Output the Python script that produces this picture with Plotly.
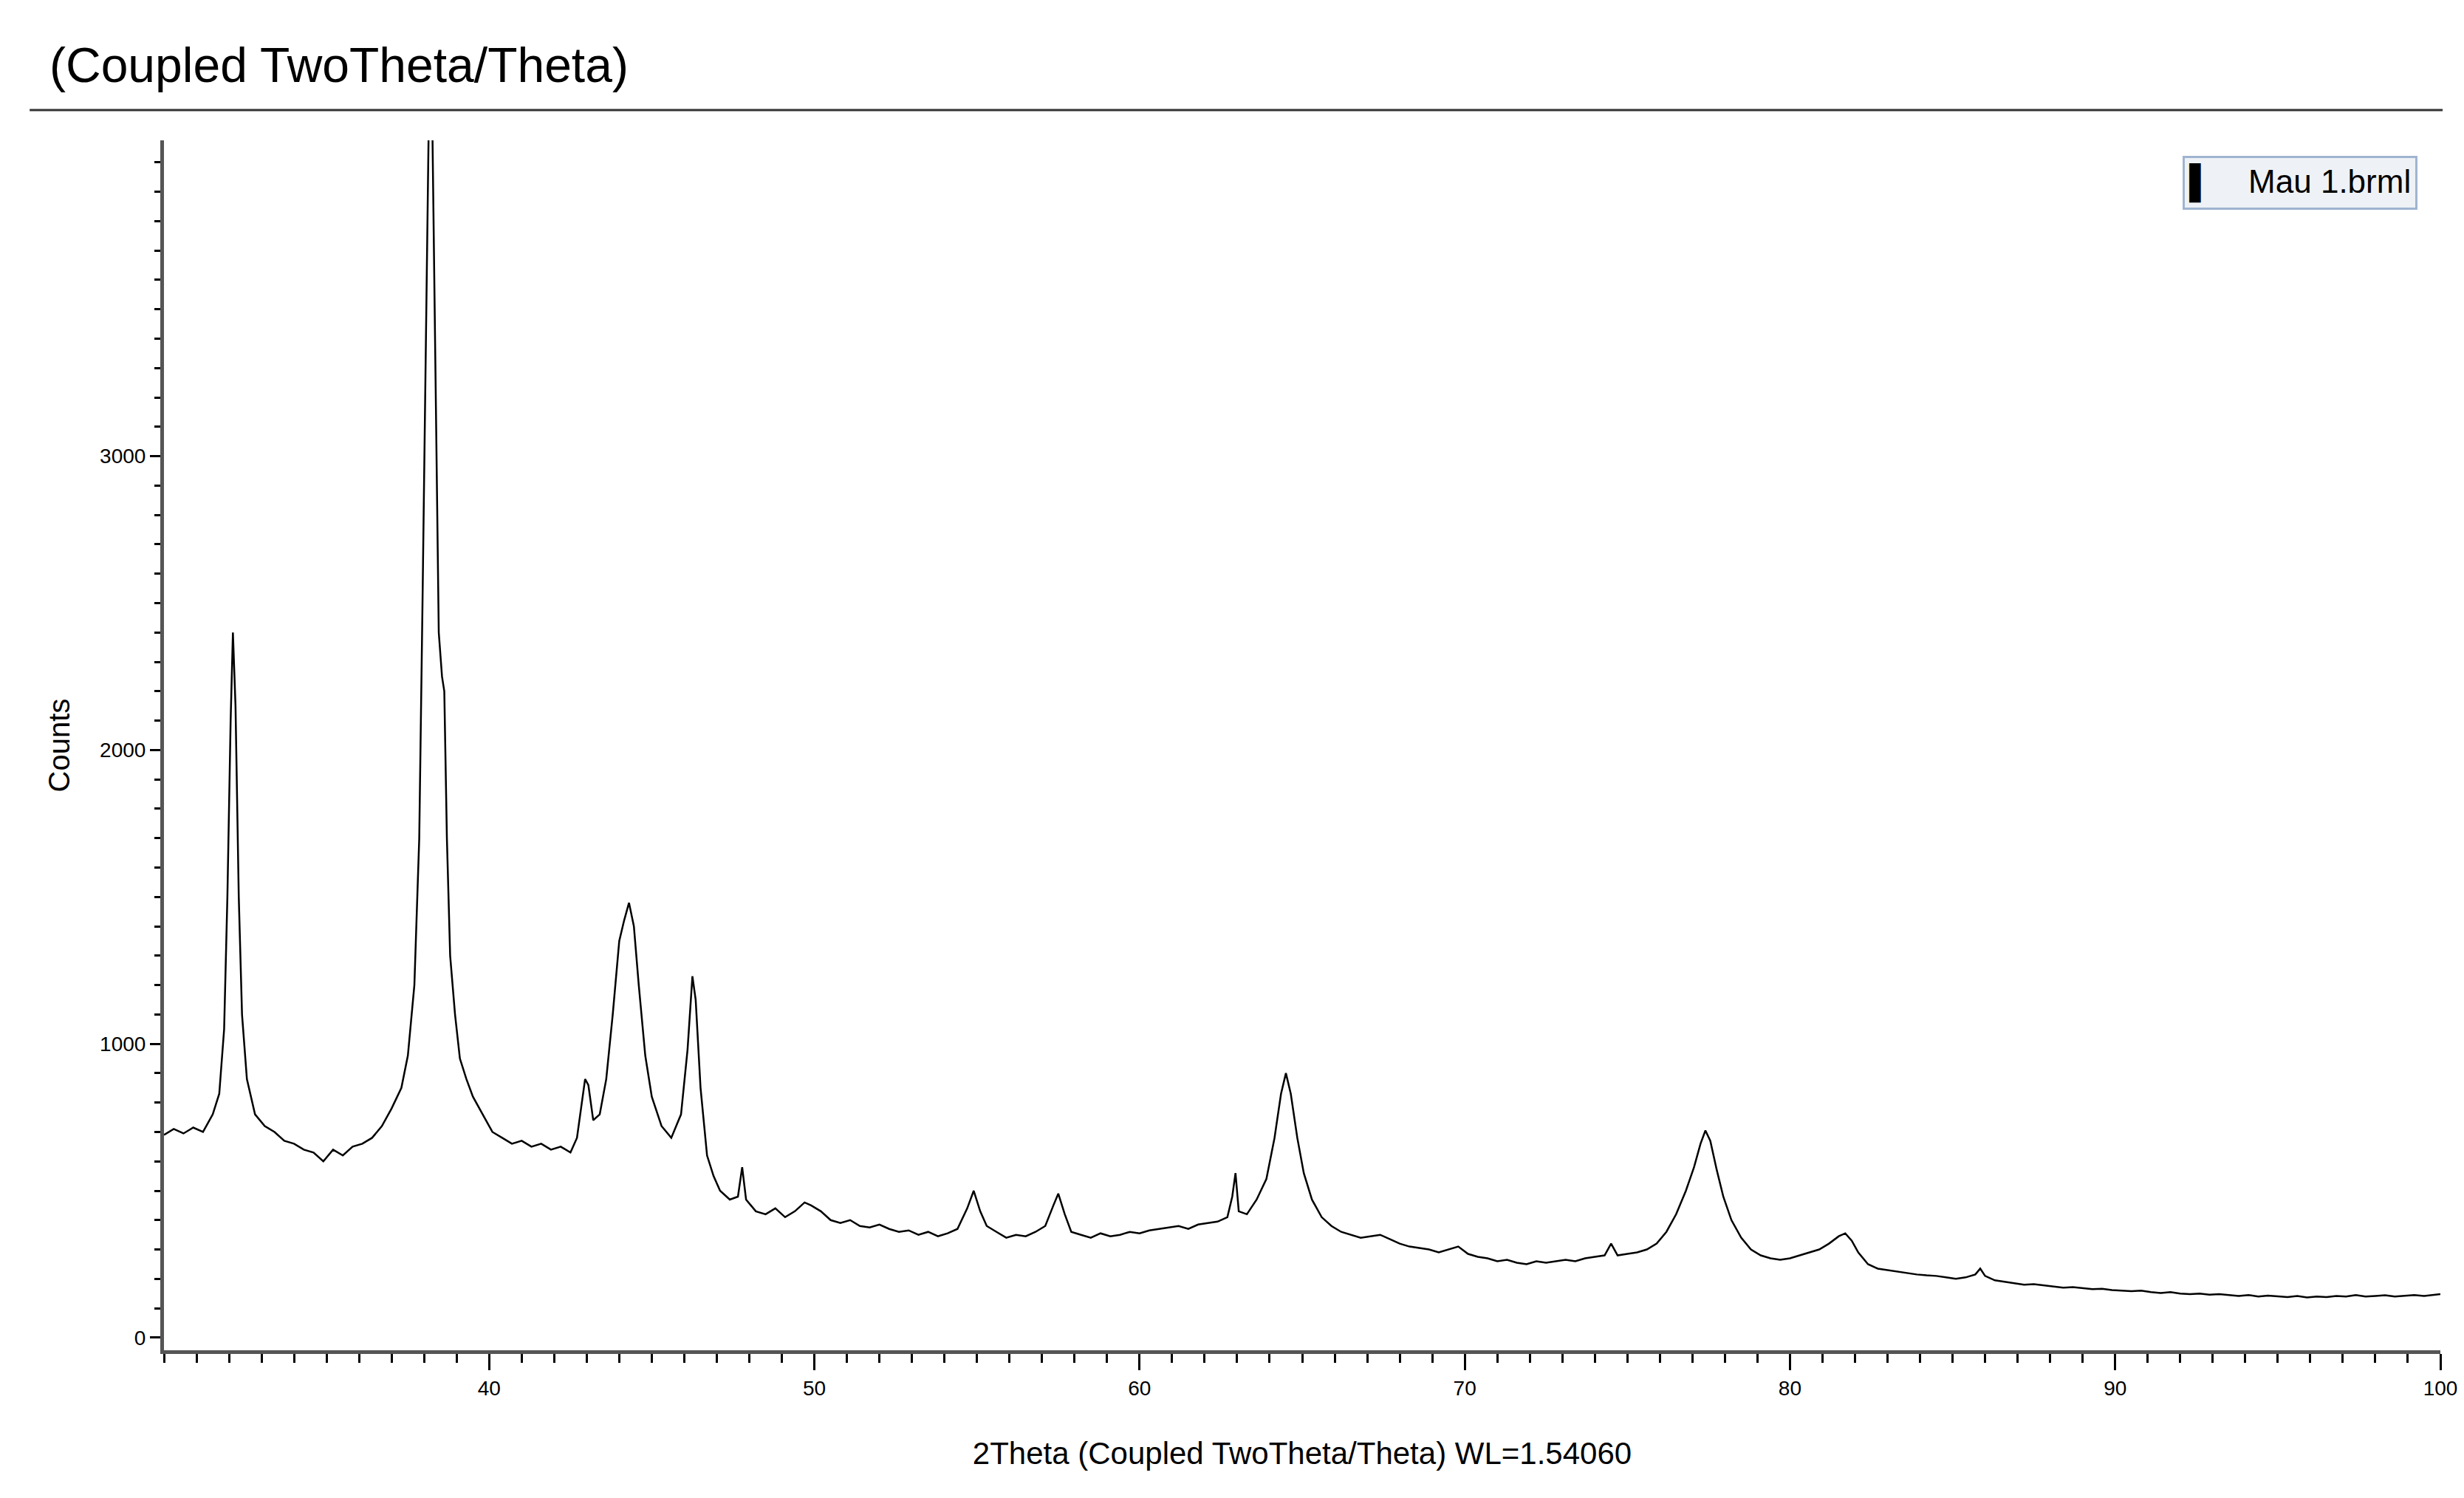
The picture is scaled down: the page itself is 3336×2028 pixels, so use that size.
import plotly.graph_objects as go

two_theta = [30.0,30.3,30.6,30.9,31.2,31.5,31.7,31.85,31.95,32.05,32.12,32.2,32.3,32.4,32.55,32.8,33.1,33.4,33.7,34.0,34.3,34.6,34.9,35.2,35.5,35.8,36.1,36.4,36.7,37.0,37.3,37.5,37.7,37.85,37.95,38.05,38.15,38.25,38.35,38.45,38.55,38.62,38.7,38.8,38.95,39.1,39.3,39.5,39.8,40.1,40.4,40.7,41.0,41.3,41.6,41.9,42.2,42.5,42.7,42.85,42.95,43.05,43.2,43.4,43.6,43.8,44.0,44.15,44.3,44.45,44.6,44.8,45.0,45.3,45.6,45.9,46.1,46.25,46.35,46.5,46.7,46.9,47.1,47.4,47.65,47.78,47.9,48.2,48.5,48.8,49.1,49.4,49.7,49.9,50.2,50.5,50.8,51.1,51.4,51.7,52.0,52.3,52.6,52.9,53.2,53.5,53.8,54.1,54.4,54.7,54.9,55.1,55.3,55.6,55.9,56.2,56.5,56.8,57.1,57.35,57.5,57.7,57.9,58.2,58.5,58.8,59.1,59.4,59.7,60.0,60.3,60.6,60.9,61.2,61.5,61.8,62.1,62.4,62.7,62.85,62.95,63.05,63.3,63.6,63.9,64.15,64.35,64.5,64.65,64.85,65.05,65.3,65.6,65.9,66.2,66.5,66.8,67.1,67.4,67.7,68.0,68.3,68.6,68.9,69.2,69.5,69.8,70.1,70.4,70.7,71.0,71.3,71.6,71.9,72.2,72.5,72.8,73.1,73.4,73.7,74.0,74.3,74.5,74.7,75.0,75.3,75.6,75.9,76.2,76.5,76.8,77.05,77.25,77.4,77.55,77.75,77.95,78.2,78.5,78.8,79.1,79.4,79.7,80.0,80.3,80.6,80.9,81.2,81.5,81.7,81.9,82.1,82.4,82.7,83.0,83.3,83.6,83.9,84.2,84.5,84.8,85.1,85.4,85.7,85.85,86.0,86.3,86.6,86.9,87.2,87.5,87.8,88.1,88.4,88.7,89.0,89.3,89.6,89.9,90.2,90.5,90.8,91.1,91.4,91.7,92.0,92.3,92.6,92.9,93.2,93.5,93.8,94.1,94.4,94.7,95.0,95.3,95.6,95.9,96.2,96.5,96.8,97.1,97.4,97.7,98.0,98.3,98.6,98.9,99.2,99.5,99.8,100.0]
counts = [690,710,695,715,700,760,830,1050,1500,2100,2400,2150,1500,1100,880,760,720,700,670,660,640,630,600,640,620,650,660,680,720,780,850,960,1200,1700,2500,3400,4200,4150,3300,2400,2250,2200,1700,1300,1100,950,880,820,760,700,680,660,670,650,660,640,650,630,680,800,880,860,740,760,880,1100,1350,1420,1480,1400,1200,960,820,720,680,760,980,1230,1150,850,620,550,500,470,480,580,470,430,420,440,410,430,460,450,430,400,390,400,380,375,385,370,360,365,350,360,345,355,370,440,500,430,380,360,340,350,345,360,380,450,490,420,360,350,340,355,345,350,360,355,365,370,375,380,370,385,390,395,410,480,560,430,420,470,540,680,830,900,830,680,560,470,410,380,360,350,340,345,350,335,320,310,305,300,290,300,310,285,275,270,260,265,255,250,260,255,260,265,260,270,275,280,320,280,285,290,300,320,360,420,500,580,660,705,670,570,480,400,340,300,280,270,265,270,280,290,300,320,345,355,330,290,250,235,230,225,220,215,212,210,205,200,205,215,235,210,195,190,185,180,182,178,175,170,172,168,165,166,162,160,158,160,155,152,155,150,148,150,146,148,145,142,145,140,143,140,138,142,137,140,138,142,140,145,140,142,144,140,143,145,142,146,148]

FONT = "Liberation Sans"
AX = "#555555"

fig = go.Figure(go.Scatter(x=two_theta, y=counts, mode="lines",
                           line=dict(color="black", width=2.5), name="Mau 1.brml",
                           showlegend=False))

fig.update_layout(
    width=3336, height=2028, paper_bgcolor="white", plot_bgcolor="white",
    margin=dict(l=214, r=40, t=182, b=208),
    font=dict(family=FONT, color="black"),
    xaxis=dict(range=[30, 100], tickvals=[40, 50, 60, 70, 80, 90, 100],
               ticks="outside", ticklen=22, tickwidth=3, tickcolor="black",
               showline=True, linecolor=AX, linewidth=5, showgrid=False, zeroline=False,
               tickfont=dict(size=28),
               minor=dict(dtick=1, tick0=30, ticks="outside", ticklen=12, tickwidth=3, tickcolor="black"),
               title=dict(text="2Theta (Coupled TwoTheta/Theta) WL=1.54060", font=dict(size=42), standoff=60)),
    yaxis=dict(range=[-43, 4075], tickvals=[0, 1000, 2000, 3000],
               ticks="outside", ticklen=14, tickwidth=3, tickcolor="black",
               showline=True, linecolor=AX, linewidth=5, showgrid=False, zeroline=False,
               tickfont=dict(size=28),
               minor=dict(dtick=100, tick0=0, ticks="outside", ticklen=8, tickwidth=3, tickcolor="black"),
               title=dict(text="Counts", font=dict(size=40), standoff=30)),
    annotations=[
        dict(text="(Coupled TwoTheta/Theta)", xref="paper", yref="paper", x=-0.051, y=1.062,
             xanchor="left", yanchor="middle", showarrow=False, font=dict(size=66)),
        dict(text="<b>▌</b>    Mau 1.brml", xref="paper", yref="paper", x=0.990, y=0.965,
             xanchor="right", yanchor="middle", showarrow=False, font=dict(size=44),
             bgcolor="#eef2f6", bordercolor="#9fb4d0", borderwidth=3, borderpad=6),
    ],
    shapes=[dict(type="line", xref="paper", yref="paper", x0=-0.059, x1=1.001, y0=1.025, y1=1.025,
                 line=dict(color="#333333", width=3))],
)
fig.write_html("out.html")
